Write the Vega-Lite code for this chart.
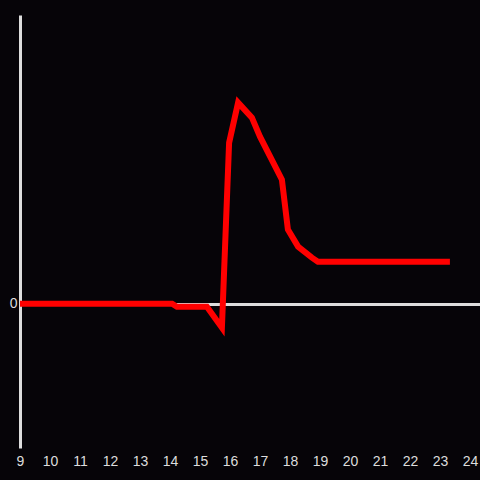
{
  "$schema": "https://vega.github.io/schema/vega-lite/v6.json",
  "width": 460,
  "height": 433,
  "autosize": {"type": "none"},
  "padding": {"left": 20, "top": 15, "right": 0, "bottom": 32},
  "background": "#060408",
  "config": {"view": {"stroke": null}},
  "data": {"values": [
    {"x": 9.0, "y": 0},
    {"x": 14.07, "y": 0},
    {"x": 14.23, "y": -0.021},
    {"x": 15.23, "y": -0.021},
    {"x": 15.73, "y": -0.166},
    {"x": 15.97, "y": 1.115},
    {"x": 16.27, "y": 1.393},
    {"x": 16.73, "y": 1.289},
    {"x": 17.0, "y": 1.157},
    {"x": 17.73, "y": 0.859},
    {"x": 17.93, "y": 0.513},
    {"x": 18.27, "y": 0.395},
    {"x": 18.73, "y": 0.319},
    {"x": 18.93, "y": 0.291},
    {"x": 23.33, "y": 0.291}
  ]},
  "mark": {"type": "line", "color": "#ff0000", "strokeWidth": 6, "strokeJoin": "miter"},
  "encoding": {
    "x": {"field": "x", "type": "quantitative", "scale": {"domain": [9, 24.333], "nice": false, "zero": false},
      "axis": {"title": null, "values": [9,10,11,12,13,14,15,16,17,18,19,20,21,22,23,24], "domain": false, "ticks": false, "grid": false,
        "labelColor": "#dddddd", "labelFontSize": 14, "labelFont": "Liberation Sans", "labelPadding": 6, "labelFlush": false, "labelOverlap": false}},
    "y": {"field": "y", "type": "quantitative", "scale": {"domain": [-1, 2], "nice": false, "zero": false},
      "axis": {"title": null, "values": [0], "domain": true, "domainColor": "#dddddd", "domainWidth": 3, "ticks": false,
        "grid": true, "gridColor": "#dddddd", "gridWidth": 3, "gridOpacity": 1,
        "labelColor": "#dddddd", "labelFontSize": 14, "labelFont": "Liberation Sans", "labelPadding": 3}}
  }
}
